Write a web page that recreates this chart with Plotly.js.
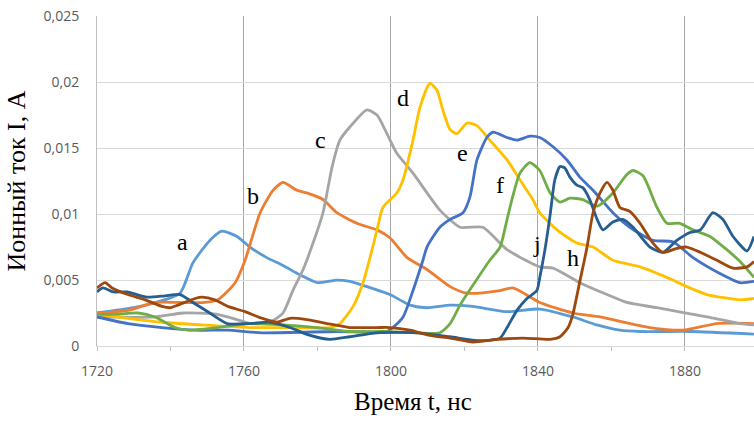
<!DOCTYPE html>
<html>
<head>
<meta charset="utf-8">
<script src="https://cdn.plot.ly/plotly-3.0.1.min.js"></script>
<style>html,body{margin:0;padding:0;background:#fff;}#chart{width:754px;height:421px;}</style>
</head>
<body>
<div id="chart"></div>
<script>
// Time, ns and ion current, A for each curve
const tA = [1720,1730,1736,1742.6,1746.1,1750.7,1754.0,1758.1,1761.6,1766.2,1770.6,1775.2,1779.9,1785.3,1788.8,1793.5,1799.7,1805.2,1809.8,1816.1,1822.3,1831.6,1840.5,1849.5,1856,1862.3,1867.8,1881.4,1898.8];
const iA = [0.0025,0.0029,0.0033,0.0040,0.0063,0.0080,0.0087,0.0083,0.0075,0.0067,0.0061,0.0054,0.0048,0.0050,0.0049,0.0045,0.0039,0.0031,0.0029,0.0031,0.0030,0.0026,0.0028,0.0022,0.0016,0.0012,0.0011,0.0011,0.0009];

const tB = [1720,1728.4,1735.8,1742.0,1749.4,1752.9,1757.6,1760.3,1764.4,1767.9,1770.6,1774.4,1777.1,1781.5,1785.3,1790.7,1796.2,1799.7,1804.4,1809.8,1816.1,1820.7,1829.7,1833.2,1840.5,1849.5,1856.9,1870.5,1879.5,1888.7,1898.8];
const iB = [0.0025,0.0027,0.0033,0.0033,0.0033,0.0035,0.0048,0.0065,0.0101,0.0118,0.0124,0.0118,0.0116,0.0111,0.0101,0.0093,0.0088,0.0082,0.0067,0.0058,0.0045,0.0040,0.0042,0.0044,0.0033,0.0025,0.0022,0.0014,0.0012,0.0017,0.0017];

const tC = [1720,1735.8,1743.4,1752.7,1758.1,1761.6,1767.1,1770.6,1773.3,1776.1,1778.8,1781.5,1784.0,1786.1,1788.8,1793.5,1796.2,1798.9,1801.6,1806.0,1810.6,1813.3,1818.8,1825.0,1831.6,1840.5,1844.1,1851.4,1858.8,1864.2,1872.4,1886.0,1895.0,1898.8];
const iC = [0.0022,0.0022,0.0025,0.0024,0.0020,0.0017,0.0018,0.0025,0.0042,0.0058,0.0078,0.0101,0.0136,0.0156,0.0166,0.0179,0.0175,0.0161,0.0146,0.0131,0.0113,0.0103,0.0090,0.0090,0.0073,0.0060,0.0059,0.0048,0.0039,0.0033,0.0029,0.0022,0.0017,0.0016];

const tD = [1720,1728.4,1737.7,1761.6,1770.6,1783.4,1786.1,1789.7,1792.4,1794.3,1796.2,1797.8,1801.6,1803.3,1806.0,1807.9,1810.6,1812.5,1814.1,1816.1,1818,1820.7,1823.4,1826.9,1831.6,1835.1,1838.6,1840.5,1845.2,1850.6,1855.0,1860.4,1867.8,1876.7,1880.5,1886.0,1895.0,1898.8];
const iD = [0.0024,0.0021,0.0018,0.0014,0.0014,0.0014,0.0017,0.0030,0.0048,0.0067,0.0088,0.0105,0.0116,0.0126,0.0156,0.0181,0.0199,0.0194,0.0179,0.0164,0.0161,0.0169,0.0167,0.0156,0.0141,0.0126,0.0111,0.0101,0.0088,0.0078,0.0075,0.0065,0.0060,0.0050,0.0045,0.0039,0.0035,0.0036];

const tE = [1720,1728.4,1737.7,1746.7,1755.6,1764.9,1785.3,1798.9,1800.5,1803.3,1806.0,1808.7,1809.8,1813.3,1816.1,1819.6,1821.5,1823.4,1826.1,1827.8,1831.6,1834.3,1837.8,1840.5,1844.1,1847.9,1851.4,1855.0,1860.4,1865.0,1871.3,1876.7,1882.2,1889.5,1895.0,1898.8];
const iE = [0.0022,0.0017,0.0014,0.0012,0.0012,0.0010,0.0011,0.0011,0.0014,0.0022,0.0042,0.0065,0.0075,0.0090,0.0096,0.0101,0.0113,0.0141,0.0158,0.0162,0.0158,0.0156,0.0159,0.0158,0.0151,0.0141,0.0128,0.0118,0.0101,0.0090,0.0080,0.0079,0.0067,0.0055,0.0048,0.0049];

const tF = [1720,1724.9,1731.2,1735.8,1741.2,1744.8,1752.7,1761.6,1770.6,1779.9,1788.8,1797.8,1807.1,1813.3,1816.1,1818.8,1822.3,1826.9,1829.7,1831.6,1833.2,1835.1,1837.8,1840.5,1843.3,1846.0,1848.7,1852.2,1856.1,1860.4,1864.2,1865.9,1868.6,1872.4,1875.1,1878.6,1882.2,1886.8,1891.4,1895.0,1898.8];
const iF = [0.0024,0.0024,0.0025,0.0022,0.0014,0.0012,0.0014,0.0017,0.0016,0.0014,0.0011,0.0011,0.0010,0.0010,0.0017,0.0031,0.0046,0.0065,0.0075,0.0096,0.0114,0.0131,0.0139,0.0133,0.0116,0.0109,0.0112,0.0111,0.0106,0.0116,0.0130,0.0133,0.0129,0.0105,0.0093,0.0093,0.0088,0.0083,0.0073,0.0064,0.0052];

const tJ = [1720,1721.6,1724.4,1728.2,1733.6,1738.5,1742.6,1746.1,1750.7,1755.4,1761.6,1767.1,1772.5,1778.0,1783.4,1788.8,1796.2,1807.1,1816.1,1824.2,1829.7,1831.6,1834.3,1837.0,1839.7,1840.5,1841.9,1843.3,1844.6,1846.0,1847.3,1848.7,1850.6,1852.2,1854.1,1856.1,1857.7,1860.4,1863.1,1865.9,1870.5,1874.0,1877.8,1881.4,1884.2,1887.6,1890.3,1893.1,1896.9,1898.8];
const iJ = [0.0041,0.0044,0.0041,0.0041,0.0037,0.0038,0.0039,0.0033,0.0025,0.0017,0.0017,0.0018,0.0014,0.0008,0.0005,0.0007,0.0010,0.0010,0.0007,0.0004,0.0006,0.0014,0.0027,0.0036,0.0042,0.0052,0.0073,0.0099,0.0126,0.0136,0.0135,0.0128,0.0122,0.0120,0.0111,0.0096,0.0088,0.0094,0.0096,0.0090,0.0075,0.0071,0.0080,0.0086,0.0088,0.0101,0.0096,0.0083,0.0072,0.0083];

const tH = [1720,1722.2,1724.1,1728.4,1733.1,1737.7,1739.9,1742.0,1746.7,1748.6,1752.1,1755.6,1760.3,1764.9,1769.0,1772.5,1777.1,1782.6,1788.8,1796.2,1799.7,1805.2,1810.6,1816.1,1822.3,1828.8,1835.9,1843.3,1846.0,1848.2,1849.5,1851.4,1853.3,1855.0,1856.9,1858.8,1860.4,1862.3,1865.0,1867.8,1871.3,1874.0,1877.8,1880.5,1884.2,1888.7,1893.1,1896.9,1898.8];
const iH = [0.0044,0.0048,0.0044,0.0039,0.0035,0.0030,0.0029,0.0031,0.0036,0.0037,0.0035,0.0030,0.0026,0.0021,0.0018,0.0021,0.0020,0.0017,0.0014,0.0014,0.0014,0.0012,0.0008,0.0006,0.0003,0.0005,0.0006,0.0005,0.0007,0.0014,0.0024,0.0049,0.0074,0.0101,0.0116,0.0124,0.0118,0.0105,0.0102,0.0093,0.0078,0.0071,0.0074,0.0075,0.0071,0.0065,0.0059,0.0060,0.0064];

// curve labels
const labelText = ['a','b','c','d','e','f','j','h'];
const labelT = [1743.4,1762.4,1780.7,1803.3,1819.6,1829.7,1839.7,1849.5];
const labelI = [0.0079,0.0114,0.0156,0.0188,0.0146,0.0122,0.0077,0.0067];

const series = [
  {t: tA, i: iA, color: '#5B9BD5'},
  {t: tB, i: iB, color: '#ED7D31'},
  {t: tC, i: iC, color: '#A5A5A5'},
  {t: tD, i: iD, color: '#FFC000'},
  {t: tE, i: iE, color: '#4472C4'},
  {t: tF, i: iF, color: '#70AD47'},
  {t: tJ, i: iJ, color: '#255E91'},
  {t: tH, i: iH, color: '#9E480E'}
];

const traces = series.map(s => ({
  x: s.t, y: s.i, type: 'scatter', mode: 'lines',
  line: {color: s.color, width: 2.8, shape: 'spline', smoothing: 0.6},
  hoverinfo: 'skip'
}));

const annotations = labelText.map((txt, k) => ({
  x: labelT[k], y: labelI[k], xref: 'x', yref: 'y', text: txt, showarrow: false,
  xanchor: 'center', yanchor: 'middle',
  font: {family: 'Liberation Serif, Times New Roman, serif', size: 24, color: '#000'}
}));
annotations.push({
  x: 0.481, y: -0.215, xref: 'paper', yref: 'paper', text: 'Время t, нс', showarrow: false,
  xanchor: 'center', yanchor: 'bottom',
  font: {family: 'Liberation Serif, Times New Roman, serif', size: 25, color: '#000'}
});

const layout = {
  width: 754, height: 421,
  margin: {l: 97, r: 0, t: 16, b: 75},
  paper_bgcolor: '#fff', plot_bgcolor: '#fff',
  showlegend: false,
  separators: ', ',
  font: {family: 'Open Sans, sans-serif', size: 14, color: '#595959'},
  xaxis: {
    range: [1720, 1898.8], tick0: 1720, dtick: 40,
    showgrid: true, gridcolor: '#a6a6a6', gridwidth: 1,
    zeroline: false, showline: true, linecolor: '#d9d9d9', linewidth: 1,
    ticks: 'outside', ticklen: 4, tickcolor: '#bfbfbf',
    minor: {dtick: 20, ticks: 'outside', ticklen: 4, tickcolor: '#bfbfbf', showgrid: false},
    ticklabelstandoff: 8,
    tickfont: {family: 'Open Sans, sans-serif', size: 14, color: '#595959'}
  },
  yaxis: {
    range: [0, 0.02501], tick0: 0, dtick: 0.005,
    showgrid: true, gridcolor: '#d9d9d9', gridwidth: 1,
    zeroline: false, showline: true, linecolor: '#bfbfbf', linewidth: 1,
    ticks: '', ticklabelstandoff: 14,
    tickfont: {family: 'Open Sans, sans-serif', size: 14, color: '#595959'},
    title: {text: 'Ионный ток I, А', standoff: 10,
      font: {family: 'Liberation Serif, Times New Roman, serif', size: 26, color: '#000'}}
  },
  annotations: annotations
};

Plotly.newPlot('chart', traces, layout, {staticPlot: true, displayModeBar: false});
</script>
</body>
</html>
